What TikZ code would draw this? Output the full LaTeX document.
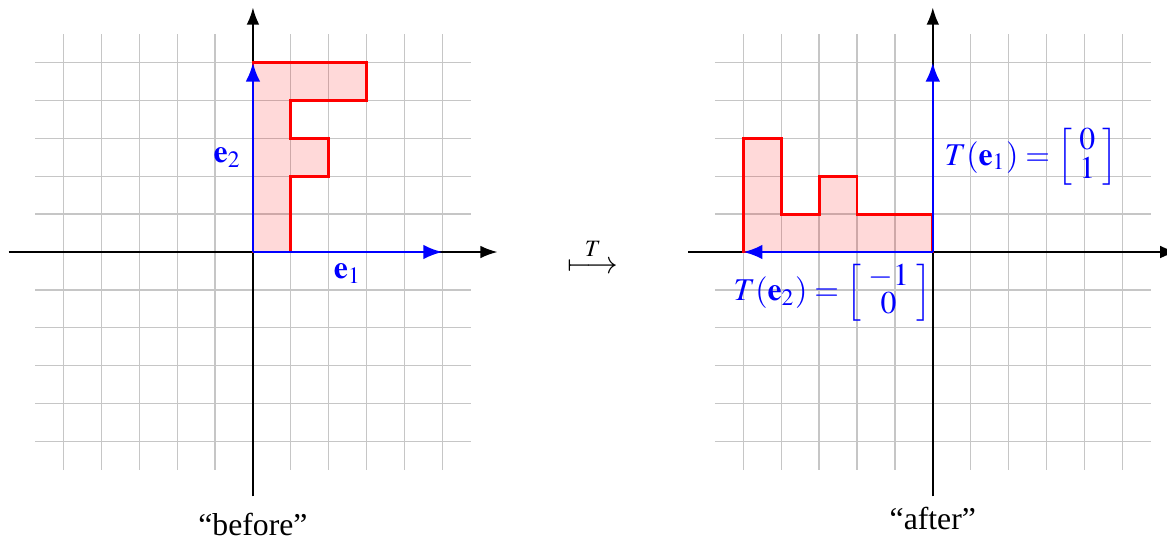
\documentclass[tikz,border=0pt]{standalone}
\usepackage{amsmath}
\usepackage{mathptmx}
\usepackage[no-math]{fontspec}
\setmainfont{Liberation Serif}
\usepackage{tikz}
\usetikzlibrary{arrows.meta}

\newcommand{\colvec}[2]{\left[\def\arraystretch{0.65}\setlength\arraycolsep{2.3pt}\begin{array}{c} #1\\ #2 \end{array}\right]}

\begin{document}
\begin{tikzpicture}[x=0.42cm, y=0.42cm,
        gridline/.style={draw=gray!45, line width=0.4pt},
        axis/.style={-{Latex[length=5.4pt, width=4pt]}, line width=0.5pt, black},
        basis/.style={-{Latex[length=6pt, width=4.6pt]}, line width=0.8pt, blue},
        region/.style={draw=red, line width=0.9pt, fill=red, fill opacity=0.15},
        vlabel/.style={text=blue}
    ]
        \useasboundingbox (-6.675,-7.57) rectangle (24.12,6.65);

        % before
        \draw[gridline, step=1] (-5.75,-5.75) grid (5.75,5.75);
        \draw[axis] (-6.45,0) -- (6.45,0);
        \draw[axis] (0,-6.45) -- (0,6.45);
        \coordinate (origA) at (0,0);
        \coordinate (eone) at (5,0);
        \coordinate (etwo) at (0,5);
        \draw[region] (0,0) -- (1,0) -- (1,2) -- (2,2) -- (2,3) -- (1,3) -- (1,4) -- (3,4) -- (3,5) -- (0,5) -- cycle;
        \draw[basis] (origA) -- node[vlabel, below] (lblone) {$\mathbf{e}_1$} (eone);
        \draw[basis] (origA) -- node[vlabel, left] (lbltwo) {$\mathbf{e}_2$} (etwo);
        \node (before) at (0,-7.2) {``before''};

        \node (map) at (8.97,-0.1) {$\stackrel{T}{\longmapsto}$};

        % after
        \begin{scope}[shift={(17.94,0)}]
            \draw[gridline, step=1] (-5.75,-5.75) grid (5.75,5.75);
            \draw[axis] (-6.45,0) -- (6.45,0);
            \draw[axis] (0,-6.45) -- (0,6.45);
            \coordinate (origB) at (0,0);
            \coordinate (teone) at (0,5);
            \coordinate (tetwo) at (-5,0);
            \draw[region] (0,0) -- (0,1) -- (-2,1) -- (-2,2) -- (-3,2) -- (-3,1) -- (-4,1) -- (-4,3) -- (-5,3) -- (-5,0) -- cycle;
            \draw[basis] (origB) -- node[vlabel, right] (tlblone) {$T(\mathbf{e}_1) = \colvec{0}{1}$} (teone);
            \draw[basis] (origB) -- node[vlabel, pos=0, below left, xshift=3.2pt] (tlbltwo) {$T(\mathbf{e}_2) = \colvec{-1}{0}$} (tetwo);
            \node (after) at (0,-7.02) {``after''};
        \end{scope}
    \end{tikzpicture}
\end{document}
